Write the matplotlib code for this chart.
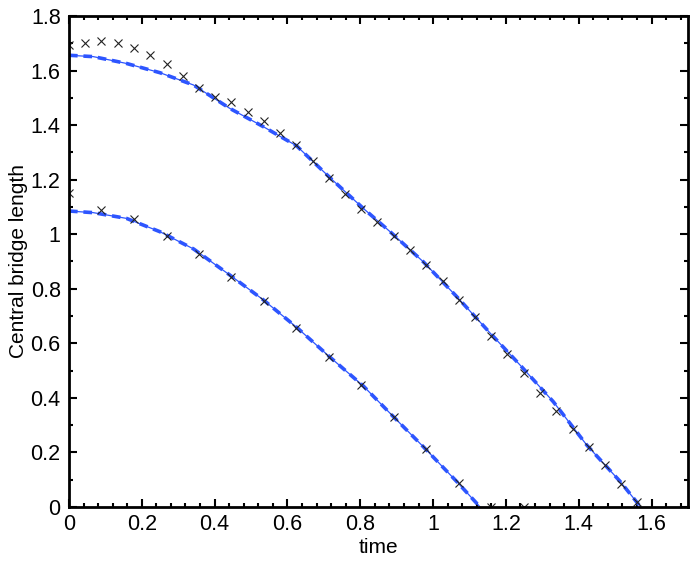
import matplotlib
matplotlib.use("Agg")
import matplotlib.pyplot as plt
from matplotlib.ticker import AutoMinorLocator

# ---- data ----
# simulation markers, upper curve
t_pts_1 = [0.000, 0.0446, 0.0892, 0.134, 0.178, 0.223, 0.268, 0.312, 0.357, 0.401,
           0.446, 0.491, 0.535, 0.580, 0.624, 0.669, 0.714, 0.758, 0.803, 0.847,
           0.892, 0.937, 0.981, 1.026, 1.070, 1.115, 1.160, 1.204, 1.249, 1.293,
           1.338, 1.383, 1.427, 1.472, 1.516, 1.561]
y_pts_1 = [1.694, 1.702, 1.707, 1.702, 1.681, 1.658, 1.625, 1.581, 1.537, 1.504,
           1.483, 1.448, 1.414, 1.370, 1.326, 1.268, 1.206, 1.147, 1.094, 1.045,
           0.995, 0.942, 0.887, 0.828, 0.760, 0.695, 0.627, 0.562, 0.490, 0.419,
           0.351, 0.287, 0.219, 0.153, 0.084, 0.018]
# simulation markers, lower curve
t_pts_2 = [0.000, 0.0892, 0.178, 0.268, 0.357, 0.446, 0.535, 0.624, 0.714, 0.803,
           0.892, 0.981, 1.070, 1.160, 1.249]
y_pts_2 = [1.152, 1.088, 1.055, 0.993, 0.926, 0.844, 0.754, 0.655, 0.549, 0.447,
           0.331, 0.214, 0.088, 0.000, 0.000]

# theoretical curves
t_line_1 = [0.000, 0.067, 0.158, 0.250, 0.342, 0.442, 0.534, 0.625, 0.717, 0.808,
            0.882, 0.973, 1.065, 1.157, 1.239, 1.330, 1.422, 1.514, 1.570]
y_line_1 = [1.656, 1.651, 1.626, 1.592, 1.547, 1.461, 1.394, 1.324, 1.207, 1.095,
            1.009, 0.899, 0.771, 0.637, 0.520, 0.386, 0.227, 0.093, 0.000]
t_line_2 = [0.000, 0.067, 0.158, 0.250, 0.342, 0.442, 0.534, 0.625, 0.717, 0.808,
            0.891, 0.973, 1.065, 1.129]
y_line_2 = [1.085, 1.079, 1.058, 1.009, 0.946, 0.850, 0.759, 0.659, 0.549, 0.444,
            0.331, 0.221, 0.093, 0.000]

x_ticks = [0, 0.2, 0.4, 0.6, 0.8, 1.0, 1.2, 1.4, 1.6]
x_tick_labels = ['0', '0.2', '0.4', '0.6', '0.8', '1', '1.2', '1.4', '1.6']
y_ticks = [0, 0.2, 0.4, 0.6, 0.8, 1.0, 1.2, 1.4, 1.6, 1.8]
y_tick_labels = ['0', '0.2', '0.4', '0.6', '0.8', '1', '1.2', '1.4', '1.6', '1.8']

x_label = "time"
y_label = "Central bridge length"

plt.rcParams['font.family'] = ['Liberation Sans', 'DejaVu Sans']

fig = plt.figure(figsize=(6.96, 5.63), dpi=100)
ax = fig.add_axes([0.0991, 0.0995, 0.8894, 0.8721])

blue = '#2d55ff'
for tl, yl in ((t_line_1, y_line_1), (t_line_2, y_line_2)):
    ax.plot(tl, yl, color=blue, lw=0.9, solid_capstyle='butt')
    ax.plot(tl, yl, color=blue, lw=2.6, dashes=(2.4, 1.6))

for tp, yp in ((t_pts_1, y_pts_1), (t_pts_2, y_pts_2)):
    ax.plot(tp, yp, linestyle='none', marker='x', ms=5.5, mew=0.8, color='#222222')

ax.set_xlim(0, 1.7)
ax.set_ylim(0, 1.8)
ax.set_xticks(x_ticks)
ax.set_xticklabels(x_tick_labels)
ax.set_yticks(y_ticks)
ax.set_yticklabels(y_tick_labels)
ax.xaxis.set_minor_locator(AutoMinorLocator(5))
ax.yaxis.set_minor_locator(AutoMinorLocator(2))

ax.tick_params(which='both', direction='in', top=True, right=True, labelsize=15.5,
               width=1.5, colors='black')
ax.tick_params(which='major', length=5.5)
ax.tick_params(axis='x', which='major', pad=5)
ax.tick_params(axis='y', which='major', pad=6)
ax.tick_params(which='minor', length=3)
for s in ax.spines.values():
    s.set_linewidth(2.0)

ax.set_xlabel(x_label, fontsize=15, labelpad=2)
ax.set_ylabel(y_label, fontsize=15, labelpad=2)

fig.savefig("out.png", dpi=100)
